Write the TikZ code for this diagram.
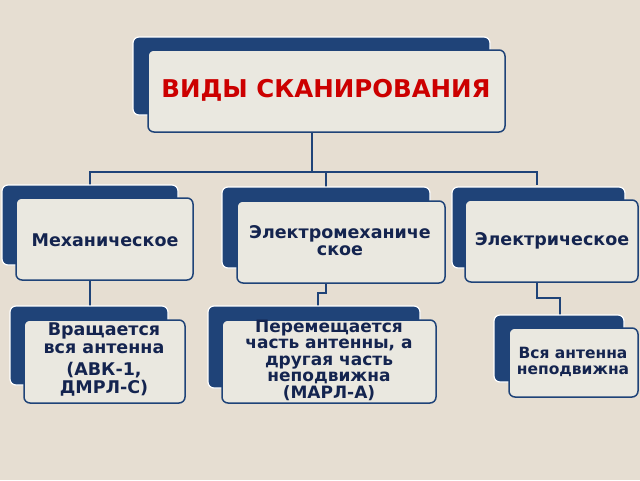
\documentclass[tikz,border=0pt]{standalone}
\usepackage{fontspec}
\setmainfont{DejaVu Sans}
\begin{document}
\begin{tikzpicture}[x=1pt,y=-1pt,
 back/.style={fill=navyb,draw=white,line width=1.2pt,rounded corners=6pt},
 front/.style={fill=boxf,draw=navyb,line width=1.5pt,rounded corners=6pt},
 txt/.style={font=\bfseries\fontsize{17.5}{18}\selectfont,text=txtc,align=center},
 conn/.style={draw=navyb,line width=1.6pt}]
\definecolor{navyb}{HTML}{1F4378}
\definecolor{boxf}{HTML}{EAE8E0}
\definecolor{txtc}{HTML}{14244F}
\definecolor{bg}{HTML}{E6DED2}
\fill[bg] (0,0) rectangle (640,480);
\useasboundingbox (0,0) rectangle (640,480);
% connectors
\coordinate (j0) at (312,172);
\draw[conn] (312,132) -- (j0);
\draw[conn] (90,185) -- (90,172) -- (537,172) -- (537,185);
\draw[conn] (326,172) -- (326,187);
\draw[conn] (90,280) -- (90,306);
\draw[conn] (326,283) -- (326,293) -- (318,293) -- (318,306);
\draw[conn] (537,282) -- (537,298) -- (560,298) -- (560,315);
% top
\draw[back] (133,37) rectangle (490,115);
\draw[front] (148,50) rectangle (505,132);
\node[txt,text=red!80!black,font=\bfseries\fontsize{24.5}{26}\selectfont] (top) at (326,90) {ВИДЫ СКАНИРОВАНИЯ};
% level 2
\draw[back] (2,185) rectangle (178,265);
\draw[front] (16,198) rectangle (193,280);
\node[txt] (m) at (105,240) {Механическое};
\draw[back] (222,187) rectangle (430,268);
\draw[front] (237,201) rectangle (445,283);
\node[txt,font=\bfseries\fontsize{17.5}{17}\selectfont] (em) at (340,241) {Электромеханиче\\ское};
\draw[back] (452,187) rectangle (625,268);
\draw[front] (465,200) rectangle (638,282);
\node[txt] (e) at (552,241) {Электрическое};
% level 3
\draw[back] (10,306) rectangle (168,385);
\draw[front] (24,320) rectangle (185,403);
\node[txt,font=\bfseries\fontsize{17.5}{18}\selectfont] (b1) at (104,359) {Вращается\\вся антенна\\[4pt](АВК-1,\\ДМРЛ-С)};
\draw[back] (208,306) rectangle (420,388);
\draw[front] (222,320) rectangle (436,403);
\node[txt,font=\bfseries\fontsize{17}{16.5}\selectfont] (b2) at (329,360) {Перемещается\\часть антенны, а\\другая часть\\неподвижна\\(МАРЛ-А)};
\draw[back] (494,315) rectangle (624,382);
\draw[front] (509,328) rectangle (638,397);
\node[txt,font=\bfseries\fontsize{15.5}{16}\selectfont] (b3) at (573,362) {Вся антенна\\неподвижна};
\end{tikzpicture}
\end{document}
